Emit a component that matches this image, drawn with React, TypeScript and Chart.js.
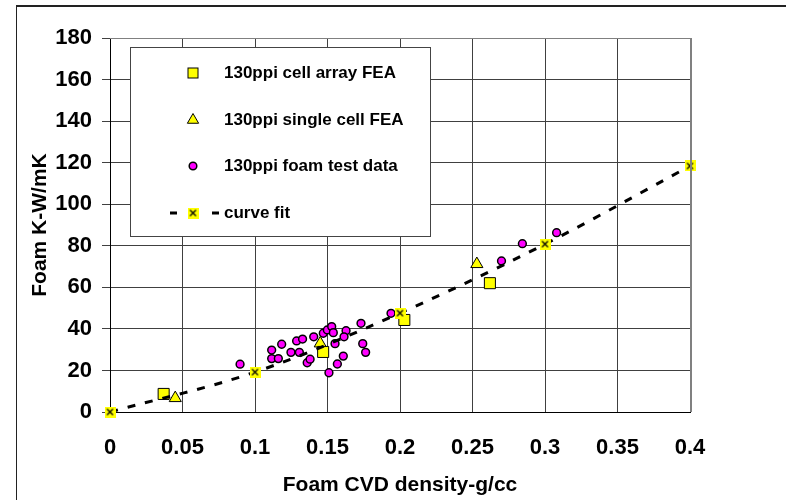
import React, { useEffect, useRef } from 'react';
import { Chart, registerables } from 'chart.js';

Chart.register(...registerables);

const xTickLabels = ['0', '0.05', '0.1', '0.15', '0.2', '0.25', '0.3', '0.35', '0.4'];
const yTickLabels = ['0', '20', '40', '60', '80', '100', '120', '140', '160', '180'];

const legendLabels = ['130ppi cell array FEA', '130ppi single cell FEA', '130ppi foam test data', 'curve fit'];

const cellArrayX = [0.037, 0.147, 0.203, 0.262];
const cellArrayY = [8.7, 28.9, 44.3, 62];

const singleCellX = [0.045, 0.145, 0.253];
const singleCellY = [6.7, 33, 71.2];

const foamX = [0.0897, 0.1115, 0.1184, 0.1115, 0.1161, 0.1248, 0.1306, 0.1287, 0.1328, 0.136, 0.138, 0.1405, 0.1471, 0.1499, 0.1529, 0.154, 0.1552, 0.1609, 0.1568, 0.151, 0.1628, 0.1614, 0.1731, 0.1743, 0.1763, 0.1938, 0.27, 0.2844, 0.308];
const foamY = [23, 29.8, 32.6, 25.7, 25.7, 28.7, 28.7, 34.2, 35.1, 23.7, 25.4, 36.2, 37.9, 39.5, 41.1, 38.2, 32.9, 26.9, 23.1, 18.9, 39.1, 36.2, 42.7, 32.9, 28.7, 47.5, 72.7, 81.0, 86.3];

const fitX = [0, 0.1, 0.2, 0.3, 0.4];
const fitY = [0, 19.2, 47.6, 80.8, 118.4];

const FONT = "'Liberation Sans', Arial, sans-serif";
const YELLOW = '#FFFF00';
const MAGENTA = '#FF00FF';

function pts(xs: number[], ys: number[]) {
  return xs.map((x, i) => ({ x, y: ys[i] }));
}

function makeFitMarker(): HTMLCanvasElement {
  const c = document.createElement('canvas');
  c.width = 11;
  c.height = 11;
  const g = c.getContext('2d')!;
  g.fillStyle = YELLOW;
  g.fillRect(0, 0, 11, 11);
  g.strokeStyle = '#000';
  g.lineWidth = 1.3;
  g.beginPath();
  g.moveTo(2.5, 2.5);
  g.lineTo(8.5, 8.5);
  g.moveTo(8.5, 2.5);
  g.lineTo(2.5, 8.5);
  g.stroke();
  return c;
}

export default function App() {
  const ref = useRef<HTMLCanvasElement | null>(null);

  useEffect(() => {
    if (!ref.current) return;
    const marker = makeFitMarker();

    const decorPlugin = {
      id: 'decor',
      afterDraw(chart: any) {
        const ctx = chart.ctx as CanvasRenderingContext2D;
        const a = chart.chartArea;
        ctx.save();
        // outer frame
        ctx.strokeStyle = '#222';
        ctx.lineWidth = 2;
        ctx.beginPath();
        ctx.moveTo(16, 6);
        ctx.lineTo(786, 6);
        ctx.stroke();
        ctx.lineWidth = 1;
        ctx.beginPath();
        ctx.moveTo(16.5, 5);
        ctx.lineTo(16.5, 500);
        ctx.stroke();
        // plot border top / right (gray)
        ctx.strokeStyle = '#808080';
        ctx.lineWidth = 1;
        ctx.beginPath();
        ctx.moveTo(a.left, Math.round(a.top) + 0.5);
        ctx.lineTo(a.right + 2, Math.round(a.top) + 0.5);
        ctx.stroke();
        ctx.lineWidth = 2;
        ctx.beginPath();
        ctx.moveTo(Math.round(a.right) + 1, a.top);
        ctx.lineTo(Math.round(a.right) + 1, a.bottom);
        ctx.stroke();

        // legend box
        const bx = 130.5, by = 47.5, bw = 300, bh = 189;
        ctx.fillStyle = '#fff';
        ctx.fillRect(bx, by, bw, bh);
        ctx.strokeStyle = '#444';
        ctx.lineWidth = 1;
        ctx.strokeRect(bx, by, bw, bh);

        const mx = 193;
        const rows = [73, 120, 166, 213];
        // square
        ctx.fillStyle = YELLOW;
        ctx.strokeStyle = '#000';
        ctx.lineWidth = 1;
        ctx.fillRect(mx - 5, rows[0] - 5, 10, 10);
        ctx.strokeRect(mx - 5, rows[0] - 5, 10, 10);
        // triangle
        const r = 6.5;
        ctx.beginPath();
        ctx.moveTo(mx, rows[1] - r);
        ctx.lineTo(mx + r * Math.sin((2 * Math.PI) / 3), rows[1] + r / 2);
        ctx.lineTo(mx - r * Math.sin((2 * Math.PI) / 3), rows[1] + r / 2);
        ctx.closePath();
        ctx.fill();
        ctx.stroke();
        // circle
        ctx.fillStyle = MAGENTA;
        ctx.lineWidth = 1.5;
        ctx.beginPath();
        ctx.arc(mx, rows[2], 3.8, 0, Math.PI * 2);
        ctx.fill();
        ctx.stroke();
        // curve fit
        ctx.fillStyle = '#000';
        ctx.fillRect(170, rows[3] - 1.5, 7, 3);
        ctx.fillRect(212, rows[3] - 1.5, 7, 3);
        ctx.drawImage(marker, mx - 5.5, rows[3] - 5.5);

        ctx.fillStyle = '#000';
        ctx.font = `bold 17px ${FONT}`;
        ctx.textBaseline = 'middle';
        ctx.textAlign = 'left';
        legendLabels.forEach((t, i) => ctx.fillText(t, 224, rows[i]));
        ctx.restore();
      },
    };

    const chart = new Chart(ref.current, {
      type: 'scatter',
      data: {
        datasets: [
          {
            label: legendLabels[3],
            data: pts(fitX, fitY),
            showLine: true,
            borderColor: '#000',
            borderWidth: 3,
            borderDash: [8, 10],
            tension: 0.35,
            pointStyle: marker as any,
            pointRadius: 5,
            fill: false,
            clip: 12,
          } as any,
          {
            label: legendLabels[0],
            data: pts(cellArrayX, cellArrayY),
            pointStyle: 'rect',
            pointRadius: 7.8,
            backgroundColor: YELLOW,
            borderColor: '#000',
            borderWidth: 1,
            clip: 12,
          } as any,
          {
            label: legendLabels[1],
            data: pts(singleCellX, singleCellY),
            pointStyle: 'triangle',
            pointRadius: 7,
            backgroundColor: YELLOW,
            borderColor: '#000',
            borderWidth: 1,
            clip: 12,
          } as any,
          {
            label: legendLabels[2],
            data: pts(foamX, foamY),
            pointStyle: 'circle',
            pointRadius: 3.9,
            backgroundColor: MAGENTA,
            borderColor: '#000',
            borderWidth: 1.5,
          },
        ],
      },
      options: {
        responsive: false,
        animation: false,
        devicePixelRatio: 1,
        layout: { padding: { left: 0, top: 38, right: 96, bottom: 0 } },
        plugins: {
          legend: { display: false },
          tooltip: { enabled: false },
        },
        scales: {
          x: {
            type: 'linear',
            min: 0,
            max: 0.4,
            afterFit: (s: any) => {
              s.height = 88;
            },
            ticks: {
              stepSize: 0.05,
              autoSkip: false,
              maxRotation: 0,
              padding: 23,
              color: '#000',
              font: { family: FONT, size: 22, weight: 'bold' },
              callback: (_v: any, i: number) => xTickLabels[i] ?? '',
            },
            grid: { color: '#404040', lineWidth: 1, drawTicks: false },
            border: { color: '#000', width: 1 },
            title: {
              display: true,
              text: 'Foam CVD density-g/cc',
              color: '#000',
              font: { family: FONT, size: 21, weight: 'bold' },
              padding: { top: 0, bottom: 2 },
            },
          },
          y: {
            type: 'linear',
            min: 0,
            max: 180,
            afterFit: (s: any) => {
              s.width = 110;
            },
            ticks: {
              stepSize: 20,
              autoSkip: false,
              padding: 10,
              color: '#000',
              font: { family: FONT, size: 22, weight: 'bold' },
              callback: (_v: any, i: number) => yTickLabels[i] ?? '',
            },
            grid: { color: '#404040', lineWidth: 1, tickLength: 8 },
            border: { color: '#000', width: 1 },
            title: {
              display: true,
              text: 'Foam K-W/mK',
              color: '#000',
              font: { family: FONT, size: 21, weight: 'bold' },
              padding: { top: 28, bottom: 0 },
            },
          },
        },
      },
      plugins: [decorPlugin],
    });

    return () => chart.destroy();
  }, []);

  return (
    <div style={{ position: 'absolute', left: 0, top: 0, width: 786, height: 500, background: '#fff' }}>
      <canvas ref={ref} width={786} height={500} style={{ display: 'block' }} />
    </div>
  );
}
